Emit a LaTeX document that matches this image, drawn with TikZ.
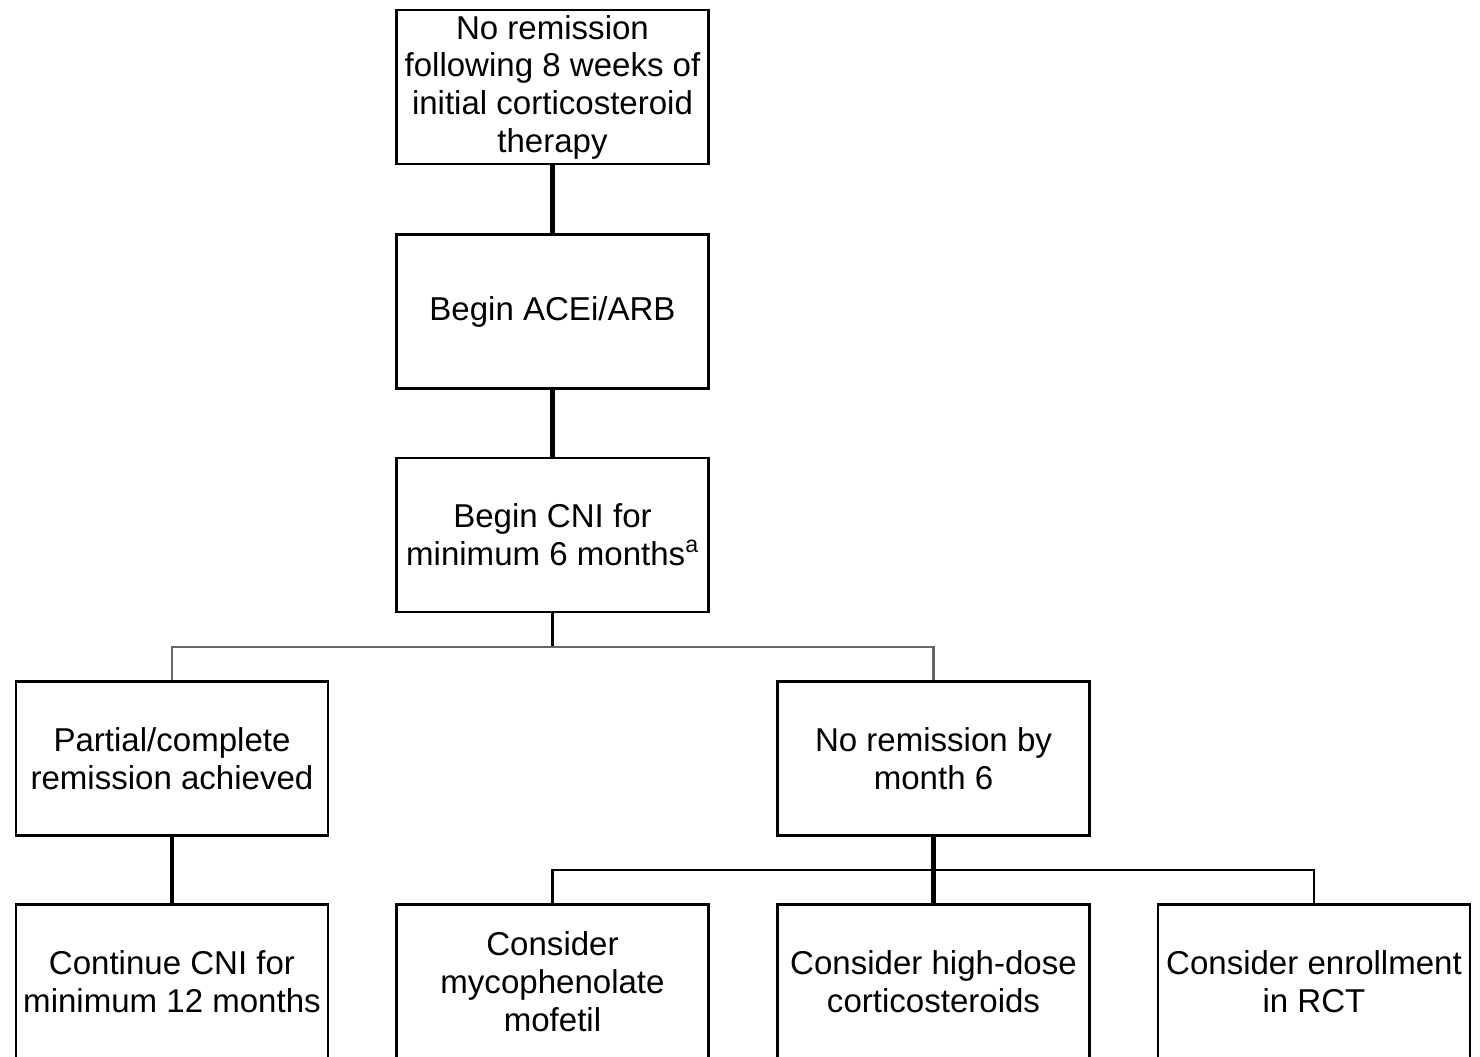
\documentclass[tikz,border=0pt]{standalone}
\usepackage{fontspec}
\setmainfont{Liberation Sans}

\begin{document}
\begin{tikzpicture}[x=0.025cm, y=-0.025cm,
    box/.style={draw, line width=1.6pt, minimum width=7.8cm, minimum height=3.85cm,
        align=center, inner sep=1pt, font=\fontsize{23.5}{26.8}\selectfont},
    trunk/.style={line width=3.4pt},
    stem/.style={line width=2.4pt},
    branch/.style={line width=1.5pt}]
    \useasboundingbox (0,0) rectangle (1480,1057);
    \clip (0,0) rectangle (1480,1057);

    % main column
    \node[box] (start) at (552.5,87) {No remission\\following 8 weeks of\\initial corticosteroid\\therapy};
    \node[box] (acei) at (552.5,311.5) {Begin ACEi/ARB};
    \node[box] (cni) at (552.5,535) {Begin CNI for\\minimum 6 months\textsuperscript{a}};

    % outcomes
    \node[box] (partial) at (172,758.5) {Partial/complete\\remission achieved};
    \node[box] (norem) at (933.5,758.5) {No remission by\\month 6};

    % bottom row (runs off the page)
    \node[box] (cont) at (172,981.5) {Continue CNI for\\minimum 12 months};
    \node[box] (mmf) at (552.5,981.5) {Consider\\mycophenolate\\mofetil};
    \node[box] (hdcs) at (933.5,981.5) {Consider high-dose\\corticosteroids};
    \node[box] (rct) at (1314,981.5) {Consider enrollment\\in RCT};

    \draw[trunk] (start) -- (acei);
    \draw[trunk] (acei) -- (cni);

    \coordinate (fork1) at (552.5,647);
    \draw[stem] (cni.south) -- (fork1);
    \draw[branch, gray!80!black] (partial.north) |- (fork1) -| (norem.north);

    \draw[trunk] (partial) -- (cont);
    \draw[trunk] (norem) -- (hdcs);

    \coordinate (fork2) at (933.5,870);
    \draw[branch] (mmf.north) |- (fork2) -| (rct.north);
\end{tikzpicture}
\end{document}
